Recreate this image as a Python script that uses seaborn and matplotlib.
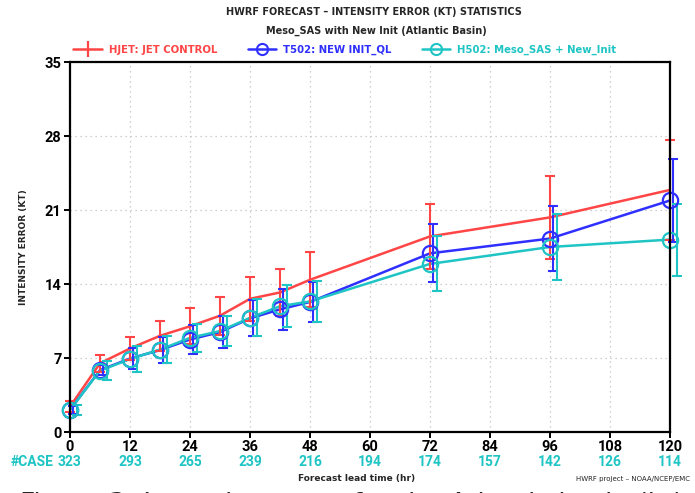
import numpy as np
import pandas as pd
import matplotlib
matplotlib.use("Agg")
import matplotlib.pyplot as plt
from matplotlib.lines import Line2D
import seaborn as sns

# ---- data ----
lead = [0, 6, 12, 18, 24, 30, 36, 42, 48, 72, 96, 120]

hjet = [2.4, 6.5, 7.9, 9.1, 10.0, 11.0, 12.6, 13.2, 14.4, 18.5, 20.3, 22.9]
hjet_ci = [0.5, 0.8, 1.05, 1.4, 1.7, 1.8, 2.1, 2.2, 2.6, 3.1, 3.9, 4.7]

t502 = [2.1, 5.85, 6.95, 7.75, 8.75, 9.45, 10.75, 11.6, 12.3, 16.9, 18.3, 21.9]
t502_ci = [0.4, 0.5, 0.95, 1.2, 1.4, 1.55, 1.7, 1.95, 1.9, 2.75, 3.1, 3.9]

h502 = [2.1, 5.8, 6.9, 7.8, 8.9, 9.55, 10.8, 11.9, 12.35, 15.9, 17.5, 18.2]
h502_ci = [0.5, 0.9, 1.2, 1.3, 1.35, 1.45, 1.75, 2.0, 1.95, 2.6, 3.1, 3.4]

case_hours = [0, 12, 24, 36, 48, 60, 72, 84, 96, 108, 120]
case_counts = [323, 293, 265, 239, 216, 194, 174, 157, 142, 126, 114]

labels = ["HJET: JET CONTROL", "T502: NEW INIT_QL", "H502: Meso_SAS + New_Init"]
colors = ["#ff4545", "#2f2fff", "#1fc4c4"]

df = pd.DataFrame({
    "lead": lead * 3,
    "err": hjet + t502 + h502,
    "model": [labels[0]] * len(lead) + [labels[1]] * len(lead) + [labels[2]] * len(lead),
})

# ---- style ----
sns.set_theme(style="ticks")
plt.rcParams["font.family"] = ["DejaVu Sans"]
tickfont = ["Roboto", "DejaVu Sans"]

fig = plt.figure(figsize=(6.95, 4.93), dpi=100)
ax = fig.add_axes([70 / 695, 1 - 432 / 493, 600 / 695, 370 / 493])

sns.lineplot(data=df, x="lead", y="err", hue="model", palette=colors,
             linewidth=1.8, ax=ax, legend=False)

# open circles for the two experiments
for vals, c in [(t502, colors[1]), (h502, colors[2])]:
    ax.plot(lead, vals, linestyle="none", marker="o", markersize=11,
            markerfacecolor="none", markeredgecolor=c, markeredgewidth=1.6,
            clip_on=False, zorder=4)

# error bars, slightly shifted right per series like the original
offsets = [0.0, 0.6, 1.3]
for vals, ci, c, off in zip([hjet, t502, h502], [hjet_ci, t502_ci, h502_ci], colors, offsets):
    eb = ax.errorbar(np.array(lead) + off, vals, yerr=ci, fmt="none", ecolor=c,
                     elinewidth=1.5, capsize=3.5, capthick=1.5)
    for art in eb.get_children():
        art.set_clip_on(False)

ax.set_xlim(0, 120)
ax.set_ylim(0, 35)
ax.set_xticks(range(0, 121, 12))
ax.set_yticks(range(0, 36, 7))
ax.grid(True, linestyle=(0, (1, 3)), color="#c0c0c0", linewidth=0.9)
for s in ax.spines.values():
    s.set_color("black")
    s.set_linewidth(1.6)
    s.set_zorder(5)
ax.tick_params(axis="both", direction="out", length=4, width=1.4, colors="black", pad=2)
for t in ax.get_xticklabels() + ax.get_yticklabels():
    t.set_fontfamily(tickfont)
    t.set_fontweight("bold")
    t.set_fontsize(10.5)
ax.set_xlabel("")
ax.set_ylabel("INTENSITY ERROR (KT)", fontsize=6.5, fontweight="bold", labelpad=12)

# case counts under the x axis
for h, n in zip(case_hours, case_counts):
    ax.text(h, -0.082, str(n), transform=ax.get_xaxis_transform(), ha="center",
            va="center", color=colors[2], fontsize=10, fontweight="bold", fontfamily=tickfont)
fig.text(54 / 695, 1 - 462.5 / 493, "#CASE", ha="right", va="center",
         color=colors[2], fontsize=10, fontweight="bold", fontfamily=tickfont)

fig.text(357 / 695, 1 - 479 / 493, "Forecast lead time (hr)", ha="center", va="center",
         fontsize=6.5, fontweight="bold")
fig.text(690 / 695, 1 - 479 / 493, "HWRF project \u2013 NOAA/NCEP/EMC", ha="right",
         va="center", fontsize=5)

# titles
fig.text(374 / 695, 1 - 12 / 493, "HWRF FORECAST \u2013 INTENSITY ERROR (KT) STATISTICS",
         ha="center", va="center", fontsize=7, fontweight="bold")
fig.text(376 / 695, 1 - 31 / 493, "Meso_SAS with New Init (Atlantic Basin)",
         ha="center", va="center", fontsize=7, fontweight="bold")

# legend
handles = [
    Line2D([], [], color=colors[0], linewidth=1.8, marker="|", markersize=11, markeredgewidth=1.6),
    Line2D([], [], color=colors[1], linewidth=1.8, marker="o", markersize=8,
           markerfacecolor="none", markeredgewidth=1.5),
    Line2D([], [], color=colors[2], linewidth=1.8, marker="o", markersize=8,
           markerfacecolor="none", markeredgewidth=1.5),
]
leg = fig.legend(handles, labels, loc="center", bbox_to_anchor=(345 / 695, 1 - 50 / 493),
                 ncol=3, frameon=False, handlelength=2.8, handletextpad=0.7,
                 columnspacing=3.0, prop={"size": 7.3, "weight": "bold"})
for txt, c in zip(leg.get_texts(), colors):
    txt.set_color(c)

# caption cut off at the bottom edge of the image
fig.text(20 / 695, 1 - 505 / 493, "Figure 3: Intensity errors for the Atlantic basin (kt)",
         ha="left", va="center", fontsize=19)

fig.savefig("out.png", dpi=100)
